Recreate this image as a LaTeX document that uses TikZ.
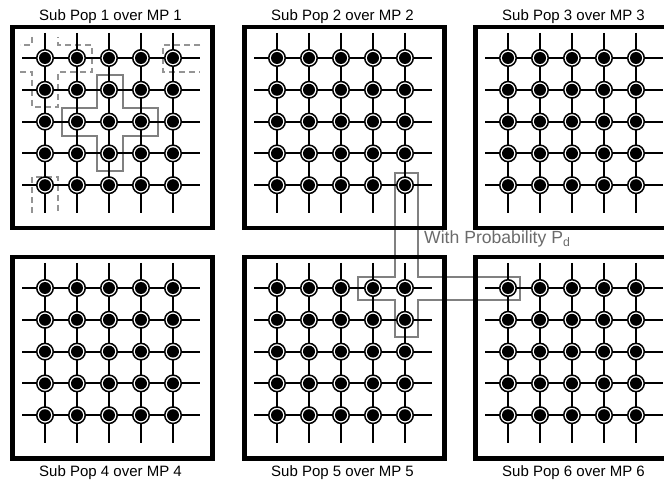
\documentclass[tikz,border=0pt]{standalone}
\usepackage{fontspec}
\setmainfont{Liberation Sans}
\begin{document}
\begin{tikzpicture}[x=1pt,y=-1pt,
  nd/.style={circle,inner sep=0pt,minimum size=16.5pt,draw=black,line width=1.5pt,fill=white,
    path picture={\fill[black] (path picture bounding box.center) circle (6pt);}},
  gridline/.style={line width=2pt,black},
  panel/.style={draw=black,line width=4.5pt,inner sep=0pt,minimum width=200pt,minimum height=201pt,anchor=north west},
  ttl/.style={font=\fontsize{15}{18}\selectfont,anchor=base,inner sep=0pt},
  hood/.style={draw=black!50,line width=2pt},
  dhood/.style={draw=black!42,line width=1.8pt,dash pattern=on 6pt off 4pt},
  lbl/.style={font=\fontsize{17.6}{21}\selectfont,text=black!58,anchor=base west,inner sep=0pt}
]
\useasboundingbox (0,0) rectangle (664,486);
\clip (0,0) rectangle (664,486);

% lattice coordinates
\foreach \n/\px/\py in {1/10/25, 2/242/25, 3/473/25, 4/10/255, 5/242/255, 6/473/255}{
  \foreach \r in {1,...,5}{
    \foreach \c in {1,...,5}{
      \coordinate (c\n-\r-\c) at ({\px+35+32*(\c-1)},{\py+33+31.8*(\r-1)});
    }
  }
}

% neighbourhood outlines
\draw[hood] (97,75) -- (123,75) -- (123,108) -- (158,108) -- (158,136) -- (123,136)
  -- (123,171) -- (97,171) -- (97,136) -- (62,136) -- (62,108) -- (97,108) -- cycle;
\draw[hood] (395,173) -- (418,173) -- (418,277) -- (520,277) -- (520,300) -- (418,300)
  -- (418,337) -- (395,337) -- (395,300) -- (358,300) -- (358,277) -- (395,277) -- cycle;

% dashed (wrapped) neighbourhood in panel 1
\draw[dhood] (32,37) -- (32,45) -- (20,45);
\draw[dhood] (20,72) -- (32,72) -- (32,107) -- (58,107) -- (58,72) -- (92,72) -- (92,45) -- (58,45) -- (58,37);
\draw[dhood] (200,45) -- (163,45) -- (163,72) -- (200,72);
\draw[dhood] (32,213) -- (32,177) -- (58,177) -- (58,213);

% lattice lines
\foreach \n in {1,...,6}{
  \foreach \k in {1,...,5}{
    \draw[gridline] ([xshift=-23pt]c\n-\k-1) -- ([xshift=27pt]c\n-\k-5);
    \draw[gridline] ([yshift=25pt]c\n-1-\k) -- ([yshift=-28pt]c\n-5-\k);
  }
}

% individuals
\foreach \n in {1,...,6}{
  \foreach \r in {1,...,5}{
    \foreach \c in {1,...,5}{
      \node[nd] (p\n-\r-\c) at (c\n-\r-\c) {};
    }
  }
}

% sub-population boxes
\foreach \n/\px/\py in {1/10/25, 2/242/25, 3/473/25, 4/10/255, 5/242/255, 6/473/255}{
  \node[panel] (box\n) at (\px,\py) {};
}

% titles
\node[ttl] (t1) at (110.5,20.5) {Sub Pop 1 over MP 1};
\node[ttl] (t2) at (342.5,20.5) {Sub Pop 2 over MP 2};
\node[ttl] (t3) at (573.5,20.5) {Sub Pop 3 over MP 3};
\node[ttl] (t4) at (110.5,476.5) {Sub Pop 4 over MP 4};
\node[ttl] (t5) at (342.5,476.5) {Sub Pop 5 over MP 5};
\node[ttl] (t6) at (573.5,476.5) {Sub Pop 6 over MP 6};

\node[lbl] (prob) at (424,244) {With Probability P\textsubscript{d}};
\end{tikzpicture}
\end{document}
